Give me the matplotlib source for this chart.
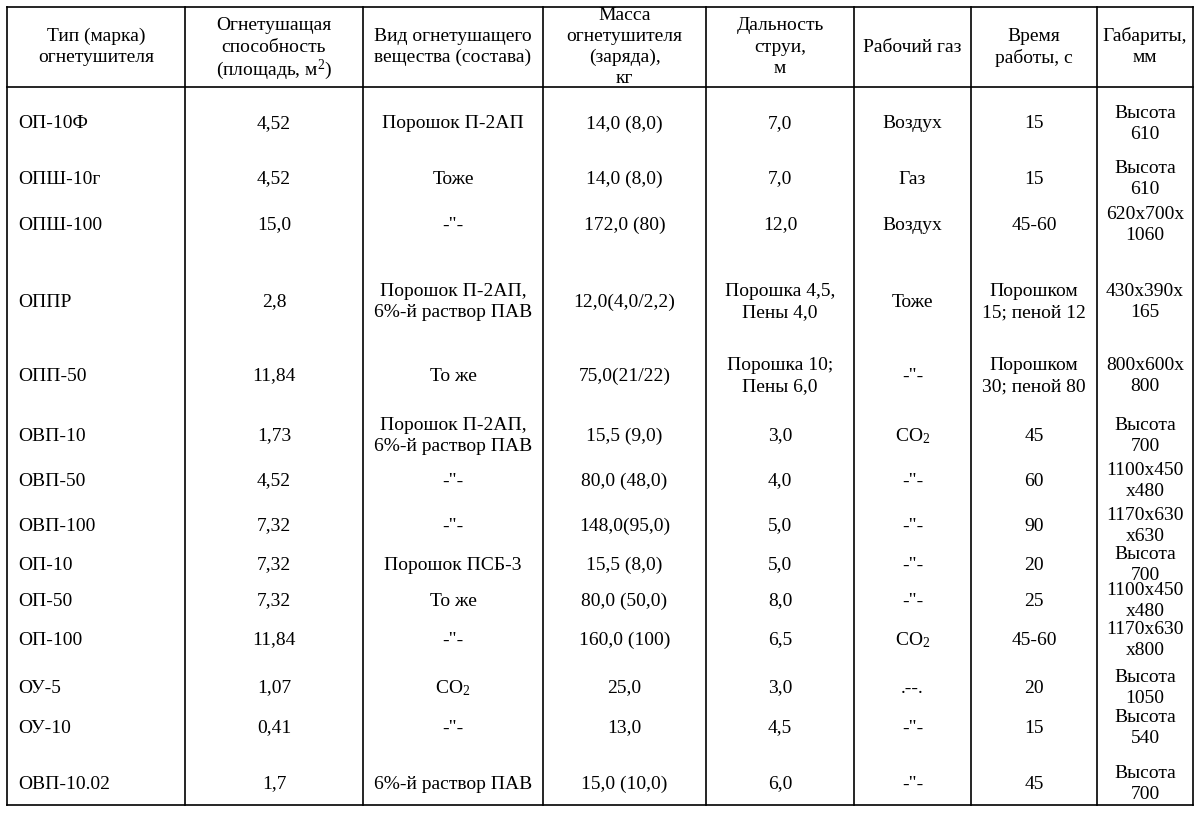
import matplotlib
matplotlib.use("Agg")
import matplotlib.pyplot as plt

plt.rcParams['font.family'] = ['Liberation Serif', 'DejaVu Serif']
plt.rcParams['mathtext.fontset'] = 'custom'
plt.rcParams['mathtext.rm'] = 'Liberation Serif'
plt.rcParams['mathtext.it'] = 'Liberation Serif:italic'
plt.rcParams['mathtext.bf'] = 'Liberation Serif:bold'

headers = ['Тип (марка)\nогнетушителя',
           'Огнетушащая\nспособность\n(площадь, м$^2$)',
           'Вид огнетушащего\nвещества (состава)',
           'Масса\nогнетушителя\n(заряда),\nкг',
           'Дальность\nструи,\nм',
           'Рабочий газ',
           'Время\nработы, с',
           'Габариты,\nмм']

types = ['ОП-10Ф', 'ОПШ-10г', 'ОПШ-100', 'ОППР', 'ОПП-50', 'ОВП-10', 'ОВП-50',
         'ОВП-100', 'ОП-10', 'ОП-50', 'ОП-100', 'ОУ-5', 'ОУ-10', 'ОВП-10.02']
capacity = ['4,52', '4,52', '15,0', '2,8', '11,84', '1,73', '4,52', '7,32',
            '7,32', '7,32', '11,84', '1,07', '0,41', '1,7']
agent = ['Порошок П-2АП', 'Тоже', '-"-', 'Порошок П-2АП,\n6%-й раствор ПАВ',
         'То же', 'Порошок П-2АП,\n6%-й раствор ПАВ', '-"-', '-"-',
         'Порошок ПСБ-3', 'То же', '-"-', 'CO$_2$', '-"-', '6%-й раствор ПАВ']
mass = ['14,0 (8,0)', '14,0 (8,0)', '172,0 (80)', '12,0(4,0/2,2)', '75,0(21/22)',
        '15,5 (9,0)', '80,0 (48,0)', '148,0(95,0)', '15,5 (8,0)', '80,0 (50,0)',
        '160,0 (100)', '25,0', '13,0', '15,0 (10,0)']
jet_range = ['7,0', '7,0', '12,0', 'Порошка 4,5,\nПены 4,0', 'Порошка 10;\nПены 6,0',
             '3,0', '4,0', '5,0', '5,0', '8,0', '6,5', '3,0', '4,5', '6,0']
gas = ['Воздух', 'Газ', 'Воздух', 'Тоже', '-"-', 'CO$_2$', '-"-', '-"-', '-"-',
       '-"-', 'CO$_2$', '.--.', '-"-', '-"-']
work_time = ['15', '15', '45-60', 'Порошком\n15; пеной 12', 'Порошком\n30; пеной 80',
             '45', '60', '90', '20', '25', '45-60', '20', '15', '45']
dims = ['Высота\n610', 'Высота\n610', '620x700x\n1060', '430x390x\n165',
        '800x600x\n800', 'Высота\n700', '1100x450\nx480', '1170x630\nx630',
        'Высота\n700', '1100x450\nx480', '1170x630\nx800', 'Высота\n1050',
        'Высота\n540', 'Высота\n700']

columns = [types, capacity, agent, mass, jet_range, gas, work_time, dims]

# layout (pixel coordinates)
col_edges = [7, 185, 363, 543, 706, 854, 971, 1097, 1193]
top, head_bottom, bottom = 7, 87, 805
row_y = [122, 177, 223, 300, 374, 434, 479, 524, 563, 599, 638, 686, 726, 782]
line_step = 21.3

fig = plt.figure(figsize=(12, 8.13), dpi=100)
ax = fig.add_axes([0, 0, 1, 1])
ax.set_xlim(0, 1200)
ax.set_ylim(813, 0)
ax.axis('off')

lw = 1.2
for x in col_edges:
    ax.plot([x, x], [top, bottom], color='black', lw=lw, solid_capstyle='projecting')
for y in (top, head_bottom, bottom):
    ax.plot([col_edges[0], col_edges[-1]], [y, y], color='black', lw=lw,
            solid_capstyle='projecting')

fs = 14


def put(x, cy, text, ha):
    lines = text.split('\n')
    n = len(lines)
    for k, ln in enumerate(lines):
        y = cy + (k - (n - 1) / 2) * line_step
        ax.text(x, y, ln, ha=ha, va='center_baseline', fontsize=fs)


for j, h in enumerate(headers):
    cx = (col_edges[j] + col_edges[j + 1]) / 2
    put(cx, 45, h, 'center')

for j, col in enumerate(columns):
    for i, val in enumerate(col):
        if j == 0:
            put(col_edges[0] + 11, row_y[i], val, 'left')
        else:
            cx = (col_edges[j] + col_edges[j + 1]) / 2
            put(cx, row_y[i], val, 'center')

fig.savefig('out.png', dpi=100, facecolor='white')
